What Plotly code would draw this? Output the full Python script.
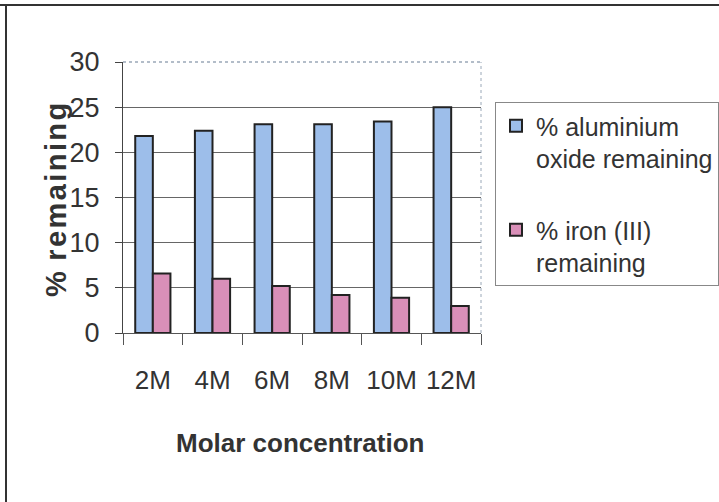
import plotly.graph_objects as go

categories = ["2M", "4M", "6M", "8M", "10M", "12M"]
alumina = [21.8, 22.4, 23.1, 23.1, 23.4, 25.0]
iron = [6.6, 6.0, 5.2, 4.2, 3.9, 3.0]
series_names = ["% aluminium<br>oxide remaining", "% iron (III)<br>remaining"]

W, H = 719, 502
L, R, T, B = 123, 481, 62, 333

def px(x):
    return (x - L) / (R - L)

def py(y):
    return (B - y) / (B - T)

FONT = "Liberation Sans, Arial, sans-serif"
TXT = "#333333"

fig = go.Figure()
fig.add_trace(go.Bar(x=categories, y=alumina, name=series_names[0], legendgroup="a",
                     marker=dict(color="#9DBEEA", line=dict(color="#222222", width=2))))
fig.add_trace(go.Bar(x=categories, y=iron, name=series_names[1], legendgroup="b",
                     marker=dict(color="#D98FB8", line=dict(color="#222222", width=2))))

hs = "\u200a"
ytitle = "%" + hs + " " + hs.join("remaining")

fig.update_layout(
    width=W, height=H,
    margin=dict(l=L, r=W - R, t=T, b=H - B, autoexpand=False),
    paper_bgcolor="white", plot_bgcolor="white",
    barmode="group", bargap=0.41, bargroupgap=0,
    font=dict(family=FONT, size=24, color=TXT),
    showlegend=True,
    legend=dict(x=px(495), y=py(102), xanchor="left", yanchor="top",
                bordercolor="#888888", borderwidth=1, bgcolor="white",
                font=dict(family=FONT, size=25, color=TXT),
                traceorder="grouped", tracegroupgap=36, valign="top", itemwidth=30),
    xaxis=dict(showline=True, linecolor="#555555", linewidth=1,
               ticks="outside", ticklen=11, tickcolor="#555555", tickson="boundaries",
               showgrid=False, tickangle=0, tickfont=dict(family=FONT, size=26, color=TXT),
               ticklabelstandoff=24),
    yaxis=dict(range=[0, 30], dtick=5, showline=True, linecolor="#444444", linewidth=1,
               ticks="outside", ticklen=7, tickcolor="#444444",
               showgrid=True, gridcolor="#666666", gridwidth=1, zeroline=False,
               tickfont=dict(family=FONT, size=27, color=TXT), ticklabelstandoff=10),
    annotations=[
        dict(text="<b>" + ytitle + "</b>", textangle=-90, xref="paper", yref="paper",
             x=px(56), y=py(200), xanchor="center", yanchor="middle", showarrow=False,
             font=dict(family=FONT, size=29, color=TXT)),
        dict(text="<b>Molar concentration</b>", xref="paper", yref="paper",
             x=px(300), y=py(443), xanchor="center", yanchor="middle", showarrow=False,
             font=dict(family=FONT, size=26, color=TXT)),
    ],
    shapes=[
        dict(type="line", xref="paper", yref="paper", x0=0, x1=1, y0=1, y1=1,
             line=dict(color="#9aa8b8", width=1.5, dash="dot")),
        dict(type="line", xref="paper", yref="paper", x0=1, x1=1, y0=0, y1=1,
             line=dict(color="#9aa8b8", width=1, dash="dot")),
        dict(type="line", xref="paper", yref="paper", x0=px(0), x1=px(730), y0=py(5), y1=py(5),
             line=dict(color="#333333", width=2)),
        dict(type="line", xref="paper", yref="paper", x0=px(6), x1=px(6), y0=py(5), y1=py(510),
             line=dict(color="#333333", width=2)),
    ],
)

fig.write_html("out.html")
